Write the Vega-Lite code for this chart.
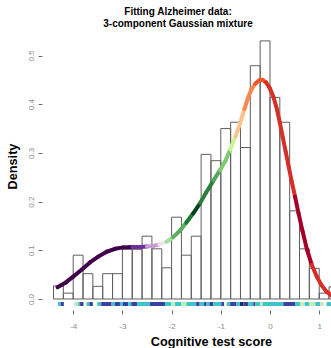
{
  "$schema": "https://vega.github.io/schema/vega-lite/v6.json",
  "autosize": {"type": "none"},
  "padding": {"left": 42, "top": 20, "right": 0, "bottom": 38},
  "width": 289,
  "height": 290,
  "background": "white",
  "config": {"view": {"stroke": null}, "font": "Liberation Sans"},
  "title": {
    "text": ["Fitting Alzheimer data:", "3-component Gaussian mixture"],
    "font": "Liberation Sans",
    "fontSize": 10,
    "fontWeight": "bold",
    "lineHeight": 12,
    "anchor": "middle",
    "frame": "group",
    "dx": -8.5,
    "offset": -9,
    "color": "black"
  },
  "datasets": {
    "hist": [
      {"lo": -4.4, "hi": -4.2, "density": 0.027},
      {"lo": -4.2, "hi": -4.0, "density": 0.012},
      {"lo": -4.0, "hi": -3.8, "density": 0.090},
      {"lo": -3.8, "hi": -3.6, "density": 0.052},
      {"lo": -3.6, "hi": -3.4, "density": 0.026},
      {"lo": -3.4, "hi": -3.2, "density": 0.052},
      {"lo": -3.2, "hi": -3.0, "density": 0.052},
      {"lo": -3.0, "hi": -2.8, "density": 0.102},
      {"lo": -2.8, "hi": -2.6, "density": 0.102},
      {"lo": -2.6, "hi": -2.4, "density": 0.129},
      {"lo": -2.4, "hi": -2.2, "density": 0.103},
      {"lo": -2.2, "hi": -2.0, "density": 0.064},
      {"lo": -2.0, "hi": -1.8, "density": 0.168},
      {"lo": -1.8, "hi": -1.6, "density": 0.090},
      {"lo": -1.6, "hi": -1.4, "density": 0.129},
      {"lo": -1.4, "hi": -1.2, "density": 0.297},
      {"lo": -1.2, "hi": -1.0, "density": 0.284},
      {"lo": -1.0, "hi": -0.8, "density": 0.350},
      {"lo": -0.8, "hi": -0.6, "density": 0.363},
      {"lo": -0.6, "hi": -0.4, "density": 0.311},
      {"lo": -0.4, "hi": -0.2, "density": 0.479},
      {"lo": -0.2, "hi": 0.0, "density": 0.530},
      {"lo": 0.0, "hi": 0.2, "density": 0.414},
      {"lo": 0.2, "hi": 0.4, "density": 0.363},
      {"lo": 0.4, "hi": 0.6, "density": 0.181},
      {"lo": 0.6, "hi": 0.8, "density": 0.103},
      {"lo": 0.8, "hi": 1.0, "density": 0.063},
      {"lo": 1.0, "hi": 1.2, "density": 0.012},
      {"lo": 1.2, "hi": 1.4, "density": 0.025}
    ],
    "rug": [
      {"x0": -4.31, "x1": -4.25, "cls": 3},
      {"x0": -4.25, "x1": -4.19, "cls": 4},
      {"x0": -3.98, "x1": -3.90, "cls": 2},
      {"x0": -3.90, "x1": -3.86, "cls": 3},
      {"x0": -3.86, "x1": -3.79, "cls": 4},
      {"x0": -3.73, "x1": -3.67, "cls": 3},
      {"x0": -3.67, "x1": -3.60, "cls": 4},
      {"x0": -3.51, "x1": -3.43, "cls": 3},
      {"x0": -3.43, "x1": -3.22, "cls": 4},
      {"x0": -3.22, "x1": -3.15, "cls": 3},
      {"x0": -3.15, "x1": -3.05, "cls": 4},
      {"x0": -3.05, "x1": -2.99, "cls": 3},
      {"x0": -2.99, "x1": -2.88, "cls": 4},
      {"x0": -2.88, "x1": -2.82, "cls": 3},
      {"x0": -2.82, "x1": -2.70, "cls": 4},
      {"x0": -2.70, "x1": -2.44, "cls": 3},
      {"x0": -2.44, "x1": -2.13, "cls": 4},
      {"x0": -2.13, "x1": -2.01, "cls": 3},
      {"x0": -2.01, "x1": -1.93, "cls": 2},
      {"x0": -1.93, "x1": -1.80, "cls": 3},
      {"x0": -1.80, "x1": -1.70, "cls": 2},
      {"x0": -1.70, "x1": -1.50, "cls": 3},
      {"x0": -1.50, "x1": -1.43, "cls": 4},
      {"x0": -1.43, "x1": -1.34, "cls": 3},
      {"x0": -1.34, "x1": -1.29, "cls": 4},
      {"x0": -1.29, "x1": -1.23, "cls": 3},
      {"x0": -1.23, "x1": -1.15, "cls": 4},
      {"x0": -1.15, "x1": -0.99, "cls": 3},
      {"x0": -0.99, "x1": -0.93, "cls": 4},
      {"x0": -0.93, "x1": -0.88, "cls": 1},
      {"x0": -0.88, "x1": -0.81, "cls": 3},
      {"x0": -0.81, "x1": -0.68, "cls": 4},
      {"x0": -0.68, "x1": -0.61, "cls": 3},
      {"x0": -0.61, "x1": -0.54, "cls": 5},
      {"x0": -0.54, "x1": -0.44, "cls": 4},
      {"x0": -0.44, "x1": -0.34, "cls": 3},
      {"x0": -0.34, "x1": -0.30, "cls": 4},
      {"x0": -0.30, "x1": -0.20, "cls": 3},
      {"x0": -0.20, "x1": -0.15, "cls": 2},
      {"x0": -0.15, "x1": 0.27, "cls": 3},
      {"x0": 0.27, "x1": 0.51, "cls": 4},
      {"x0": 0.51, "x1": 0.61, "cls": 3},
      {"x0": 0.61, "x1": 0.71, "cls": 2},
      {"x0": 0.71, "x1": 0.80, "cls": 3},
      {"x0": 0.80, "x1": 0.92, "cls": 2},
      {"x0": 0.92, "x1": 1.02, "cls": 3},
      {"x0": 1.02, "x1": 1.09, "cls": 2},
      {"x0": 1.15, "x1": 1.30, "cls": 3}
    ],
    "curve": [
      {"x": -4.32, "y": 0.024, "band": 0},
      {"x": -4.15, "y": 0.034, "band": 0},
      {"x": -4.00, "y": 0.046, "band": 0},
      {"x": -3.83, "y": 0.060, "band": 0},
      {"x": -3.66, "y": 0.075, "band": 0},
      {"x": -3.49, "y": 0.087, "band": 0},
      {"x": -3.32, "y": 0.097, "band": 0},
      {"x": -3.15, "y": 0.103, "band": 0},
      {"x": -2.98, "y": 0.106, "band": 0},
      {"x": -2.80, "y": 0.107, "band": 1},
      {"x": -2.64, "y": 0.107, "band": 1},
      {"x": -2.50, "y": 0.108, "band": 2},
      {"x": -2.37, "y": 0.109, "band": 2},
      {"x": -2.25, "y": 0.112, "band": 3},
      {"x": -2.10, "y": 0.118, "band": 4},
      {"x": -1.97, "y": 0.127, "band": 5},
      {"x": -1.83, "y": 0.140, "band": 5},
      {"x": -1.70, "y": 0.157, "band": 6},
      {"x": -1.56, "y": 0.176, "band": 7},
      {"x": -1.42, "y": 0.197, "band": 8},
      {"x": -1.30, "y": 0.218, "band": 8},
      {"x": -1.15, "y": 0.243, "band": 9},
      {"x": -1.02, "y": 0.264, "band": 10},
      {"x": -0.90, "y": 0.285, "band": 10},
      {"x": -0.81, "y": 0.307, "band": 11},
      {"x": -0.70, "y": 0.334, "band": 12},
      {"x": -0.61, "y": 0.360, "band": 12},
      {"x": -0.52, "y": 0.390, "band": 13},
      {"x": -0.45, "y": 0.412, "band": 13},
      {"x": -0.38, "y": 0.430, "band": 13},
      {"x": -0.30, "y": 0.442, "band": 14},
      {"x": -0.22, "y": 0.449, "band": 14},
      {"x": -0.15, "y": 0.450, "band": 14},
      {"x": -0.08, "y": 0.445, "band": 15},
      {"x": 0.00, "y": 0.432, "band": 15},
      {"x": 0.07, "y": 0.415, "band": 15},
      {"x": 0.14, "y": 0.390, "band": 15},
      {"x": 0.20, "y": 0.362, "band": 15},
      {"x": 0.26, "y": 0.332, "band": 15},
      {"x": 0.32, "y": 0.302, "band": 15},
      {"x": 0.38, "y": 0.272, "band": 15},
      {"x": 0.44, "y": 0.242, "band": 15},
      {"x": 0.51, "y": 0.210, "band": 16},
      {"x": 0.58, "y": 0.176, "band": 16},
      {"x": 0.66, "y": 0.140, "band": 16},
      {"x": 0.75, "y": 0.102, "band": 16},
      {"x": 0.85, "y": 0.070, "band": 15},
      {"x": 0.95, "y": 0.046, "band": 15},
      {"x": 1.05, "y": 0.028, "band": 15},
      {"x": 1.15, "y": 0.015, "band": 15},
      {"x": 1.24, "y": 0.008, "band": 15}
    ]
  },
  "encoding": {
    "x": {
      "type": "quantitative",
      "scale": {"domain": [-4.634, 1.24], "nice": false, "zero": false},
      "axis": {
        "values": [-4, -3, -2, -1, 0, 1],
        "labelExpr": "toString(datum.value)",
        "domain": false,
        "grid": false,
        "tickSize": 4,
        "tickColor": "#6e6e6e",
        "labelColor": "#8c8c8c",
        "labelFont": "Liberation Sans",
        "labelFontSize": 8,
        "labelPadding": 8,
        "labelFlush": false,
        "labelOverlap": false,
        "title": "Cognitive test score",
        "titleFont": "Liberation Sans",
        "titleFontSize": 12.7,
        "titleFontWeight": "bold",
        "titleColor": "black",
        "titleX": 169,
        "titleY": 35,
        "titleAlign": "center",
        "titleBaseline": "alphabetic"
      }
    },
    "y": {
      "type": "quantitative",
      "scale": {"domain": [-0.0226, 0.5729], "nice": false, "zero": false},
      "axis": {
        "values": [0, 0.1, 0.2, 0.3, 0.4, 0.5],
        "labelExpr": "format(datum.value, '.1f')",
        "domain": false,
        "grid": false,
        "tickSize": 4,
        "tickColor": "#6e6e6e",
        "labelColor": "#8c8c8c",
        "labelFont": "Liberation Sans",
        "labelFontSize": 8,
        "labelAngle": -90,
        "labelAlign": "center",
        "labelBaseline": "alphabetic",
        "labelPadding": 5,
        "labelFlush": false,
        "labelOverlap": false,
        "title": "Density",
        "titleFont": "Liberation Sans",
        "titleFontSize": 12.7,
        "titleFontWeight": "bold",
        "titleColor": "black",
        "titleAngle": -90,
        "titleX": -25.3,
        "titleY": 146,
        "titleAlign": "center",
        "titleBaseline": "alphabetic"
      }
    }
  },
  "layer": [
    {
      "data": {"name": "hist"},
      "mark": {"type": "rect", "fill": "white", "fillOpacity": 0, "stroke": "#5f5f5f", "strokeWidth": 1, "clip": true},
      "encoding": {
        "x": {"field": "lo", "type": "quantitative"},
        "x2": {"field": "hi"},
        "y": {"field": "density", "type": "quantitative"},
        "y2": {"datum": 0}
      }
    },
    {
      "data": {"name": "rug"},
      "mark": {"type": "rect", "clip": true},
      "encoding": {
        "x": {"field": "x0", "type": "quantitative"},
        "x2": {"field": "x1"},
        "y": {"datum": -0.0062},
        "y2": {"datum": -0.0144},
        "fill": {
          "field": "cls",
          "type": "ordinal",
          "scale": {"domain": [1, 2, 3, 4, 5], "range": ["#ffffd9", "#c7e9b4", "#41c4c8", "#3b40a3", "#1d2a6b"]},
          "legend": null
        }
      }
    },
    {
      "data": {"name": "curve"},
      "transform": [
        {"window": [{"op": "lead", "field": "x", "as": "xn"}, {"op": "lead", "field": "y", "as": "yn"}], "sort": [{"field": "x"}]},
        {"filter": "datum.xn != null"}
      ],
      "mark": {"type": "rule", "strokeWidth": 4, "strokeCap": "round", "clip": true},
      "encoding": {
        "x": {"field": "x", "type": "quantitative"},
        "y": {"field": "y", "type": "quantitative"},
        "x2": {"field": "xn"},
        "y2": {"field": "yn"},
        "stroke": {
          "field": "band",
          "type": "ordinal",
          "scale": {
            "domain": [0, 1, 2, 3, 4, 5, 6, 7, 8, 9, 10, 11, 12, 13, 14, 15, 16],
            "range": ["#40004b", "#6b3399", "#c59bd2", "#ece6ec", "#a6dba0", "#5aae61", "#1b7837", "#00441b", "#2d7f3c", "#52a85a", "#7ec870", "#ccf591", "#fdc38e", "#f9884f", "#f4542a", "#d62f27", "#a50026"]
          },
          "legend": null
        }
      }
    },
    {
      "mark": {"type": "rule", "color": "#6e6e6e", "strokeWidth": 1},
      "encoding": {
        "x": {"datum": -4},
        "x2": {"datum": 1},
        "y": {"datum": -0.0226}
      }
    },
    {
      "mark": {"type": "rule", "color": "#6e6e6e", "strokeWidth": 1},
      "encoding": {
        "x": {"datum": -4.634},
        "y": {"datum": 0},
        "y2": {"datum": 0.5}
      }
    }
  ]
}
